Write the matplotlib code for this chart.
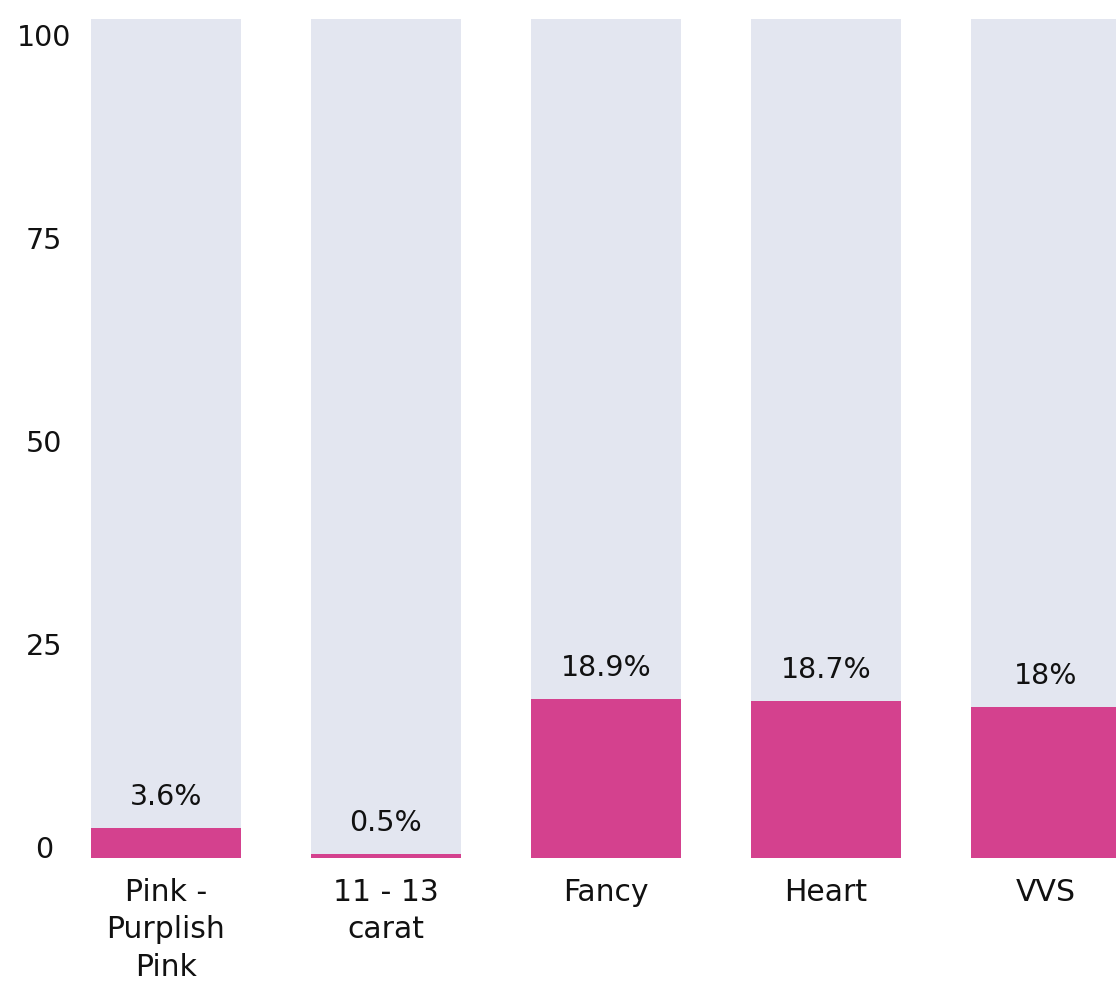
import matplotlib
matplotlib.use("Agg")
import matplotlib.pyplot as plt

categories = ["Pink -\nPurplish\nPink", "11 - 13\ncarat", "Fancy", "Heart", "VVS"]
values = [3.6, 0.5, 18.9, 18.7, 18.0]
value_labels = ["3.6%", "0.5%", "18.9%", "18.7%", "18%"]
total = [100, 100, 100, 100, 100]
ytick_values = [0, 25, 50, 75, 100]

PINK = "#D4418E"
GREY = "#E3E6F0"
FONT = ["DejaVu Sans"]

fig = plt.figure(figsize=(11.16, 9.82), dpi=100)
ax = fig.add_axes([0.0817, 0.1263, 1 - 0.0817, 0.9807 - 0.1263])

x = list(range(len(categories)))
ax.bar(x, total, width=0.68, color=GREY, zorder=1)
ax.bar(x, values, width=0.68, color=PINK, zorder=2)

for xi, v, lab in zip(x, values, value_labels):
    ax.annotate(lab, (xi, v), xytext=(0, 22.5), textcoords="offset points",
                ha="center", va="center", fontsize=20.5, family=FONT, color="#111111")

ax.set_xlim(-0.34, 4.318)
ax.set_ylim(0, 100)

ax.set_xticks(x)
ax.set_xticklabels(categories, fontsize=21.5, family=FONT, color="#111111",
                   linespacing=1.36, va="top")
ax.tick_params(axis="x", length=0, pad=14.5)

ypos = [1.25 + 0.9689 * v for v in ytick_values]
ax.set_yticks(ypos)
ax.set_yticklabels([str(v) for v in ytick_values], fontsize=20.5, family=FONT,
                   color="#111111", ha="center")
ax.tick_params(axis="y", length=0, pad=34)

for s in ax.spines.values():
    s.set_visible(False)

fig.savefig("out.png", dpi=100)
